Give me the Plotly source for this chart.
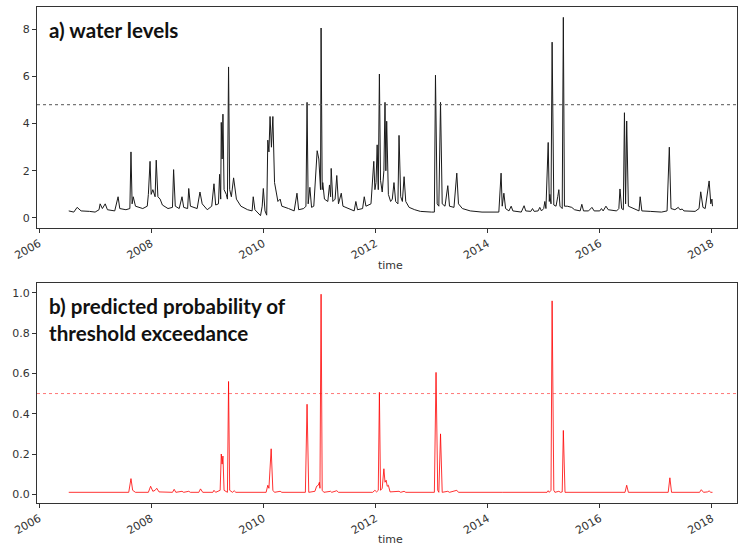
import plotly.graph_objects as go
from plotly.subplots import make_subplots

# ---------------- data (decimal years) -------------
water_points = [
    (2006.53, 0.30), (2006.62, 0.25), (2006.68, 0.45), (2006.75, 0.30), (2006.90, 0.28),
    (2007.00, 0.25), (2007.07, 0.35), (2007.09, 0.60), (2007.13, 0.40), (2007.18, 0.60),
    (2007.22, 0.35), (2007.35, 0.30), (2007.41, 0.90), (2007.44, 0.40), (2007.55, 0.35),
    (2007.62, 0.40), (2007.64, 2.80), (2007.66, 0.60), (2007.68, 0.90), (2007.72, 0.50),
    (2007.85, 0.40), (2007.93, 0.50), (2007.95, 1.00), (2007.98, 2.40), (2008.00, 1.00),
    (2008.03, 1.20), (2008.07, 0.90), (2008.09, 2.45), (2008.12, 0.90), (2008.16, 0.80),
    (2008.20, 0.55), (2008.30, 0.40), (2008.38, 0.45), (2008.40, 2.05), (2008.43, 0.50),
    (2008.50, 0.40), (2008.55, 0.90), (2008.58, 0.45), (2008.65, 0.40), (2008.67, 1.25),
    (2008.70, 0.50), (2008.82, 0.40), (2008.87, 1.10), (2008.91, 0.60), (2009.00, 0.35),
    (2009.08, 0.50), (2009.12, 1.45), (2009.15, 0.55), (2009.20, 0.60), (2009.22, 1.85),
    (2009.24, 0.80), (2009.25, 4.05), (2009.265, 2.50), (2009.28, 4.40), (2009.30, 1.20),
    (2009.34, 1.00), (2009.36, 0.80), (2009.38, 6.40), (2009.40, 1.20), (2009.43, 0.90),
    (2009.47, 1.70), (2009.52, 0.80), (2009.60, 0.50), (2009.72, 0.35), (2009.80, 0.30),
    (2009.82, 0.90), (2009.85, 0.35), (2009.90, 0.20), (2009.95, 0.10), (2009.98, 0.50),
    (2010.00, 1.25), (2010.03, 0.30), (2010.06, 0.12), (2010.08, 3.30), (2010.10, 2.80),
    (2010.12, 4.30), (2010.145, 3.00), (2010.17, 4.30), (2010.20, 1.50), (2010.23, 1.10),
    (2010.26, 0.70), (2010.30, 0.80), (2010.33, 0.50), (2010.45, 0.40), (2010.55, 0.30),
    (2010.60, 1.05), (2010.63, 0.35), (2010.72, 0.40), (2010.76, 0.50), (2010.78, 4.90),
    (2010.80, 0.60), (2010.83, 1.30), (2010.86, 0.45), (2010.90, 0.50), (2010.94, 1.80),
    (2010.96, 2.85), (2010.99, 2.50), (2011.01, 1.50), (2011.02, 1.20), (2011.03, 8.05),
    (2011.05, 1.20), (2011.06, 1.50), (2011.09, 0.80), (2011.15, 0.70), (2011.18, 1.40),
    (2011.20, 0.90), (2011.21, 2.10), (2011.24, 0.70), (2011.28, 0.80), (2011.31, 1.80),
    (2011.34, 0.60), (2011.39, 1.05), (2011.42, 0.50), (2011.55, 0.35), (2011.62, 0.30),
    (2011.65, 0.70), (2011.68, 0.35), (2011.77, 0.40), (2011.80, 0.90), (2011.83, 0.50),
    (2011.92, 0.60), (2011.97, 2.40), (2011.99, 1.20), (2012.01, 1.50), (2012.03, 3.10),
    (2012.05, 1.20), (2012.07, 6.10), (2012.09, 1.60), (2012.12, 1.10), (2012.15, 2.00),
    (2012.17, 4.90), (2012.185, 2.00), (2012.20, 4.10), (2012.23, 1.00), (2012.27, 0.70),
    (2012.30, 0.80), (2012.33, 1.50), (2012.36, 0.70), (2012.40, 0.60), (2012.42, 3.50),
    (2012.45, 0.90), (2012.48, 0.70), (2012.51, 1.75), (2012.54, 0.70), (2012.60, 0.45),
    (2012.70, 0.35), (2012.80, 0.28), (2013.00, 0.25), (2013.05, 0.25), (2013.07, 6.05),
    (2013.10, 0.60), (2013.13, 0.50), (2013.16, 4.90), (2013.19, 0.60), (2013.24, 0.50),
    (2013.29, 1.37), (2013.32, 0.50), (2013.40, 0.45), (2013.45, 1.90), (2013.48, 0.60),
    (2013.55, 0.40), (2013.69, 0.30), (2013.90, 0.25), (2014.20, 0.25), (2014.24, 1.90),
    (2014.26, 0.50), (2014.29, 1.05), (2014.32, 0.40), (2014.38, 0.30), (2014.42, 0.50),
    (2014.45, 0.30), (2014.60, 0.25), (2014.65, 0.52), (2014.68, 0.30), (2014.77, 0.28),
    (2014.80, 0.40), (2014.83, 0.28), (2014.90, 0.30), (2014.93, 0.45), (2014.96, 0.30),
    (2015.00, 0.40), (2015.02, 0.70), (2015.04, 0.40), (2015.08, 3.20), (2015.10, 0.70),
    (2015.11, 1.00), (2015.13, 0.60), (2015.15, 7.45), (2015.18, 0.55), (2015.22, 0.50),
    (2015.25, 0.90), (2015.27, 1.20), (2015.29, 0.50), (2015.33, 0.40), (2015.35, 8.50),
    (2015.37, 0.50), (2015.42, 0.50), (2015.50, 0.45), (2015.55, 0.35), (2015.65, 0.30),
    (2015.68, 0.58), (2015.71, 0.30), (2015.80, 0.30), (2015.86, 0.45), (2015.90, 0.30),
    (2016.00, 0.30), (2016.03, 0.40), (2016.06, 0.30), (2016.11, 0.50), (2016.15, 0.35),
    (2016.30, 0.30), (2016.34, 0.40), (2016.36, 1.23), (2016.39, 0.40), (2016.42, 0.35),
    (2016.44, 4.46), (2016.46, 0.60), (2016.48, 4.11), (2016.51, 0.50), (2016.60, 0.40),
    (2016.70, 0.30), (2016.72, 0.90), (2016.75, 0.30), (2016.90, 0.28), (2017.10, 0.25),
    (2017.20, 0.30), (2017.24, 3.00), (2017.27, 0.40), (2017.34, 0.35), (2017.40, 0.45),
    (2017.43, 0.35), (2017.47, 0.38), (2017.50, 0.30), (2017.70, 0.28), (2017.77, 0.40),
    (2017.80, 1.11), (2017.84, 0.45), (2017.88, 0.40), (2017.92, 1.00), (2017.95, 1.57),
    (2017.98, 0.60), (2018.00, 0.80), (2018.01, 0.50),
]

prob_points = [
    (2006.53, 0.010), (2007.60, 0.010), (2007.64, 0.078), (2007.67, 0.020), (2007.72, 0.010),
    (2007.95, 0.010), (2007.99, 0.040), (2008.03, 0.015), (2008.07, 0.020), (2008.10, 0.030),
    (2008.14, 0.012), (2008.38, 0.010), (2008.41, 0.025), (2008.44, 0.010), (2008.55, 0.015),
    (2008.58, 0.010), (2008.67, 0.015), (2008.70, 0.010), (2008.85, 0.010), (2008.88, 0.027),
    (2008.92, 0.010), (2009.10, 0.010), (2009.12, 0.020), (2009.15, 0.010), (2009.23, 0.020),
    (2009.25, 0.200), (2009.265, 0.150), (2009.28, 0.190), (2009.30, 0.020), (2009.36, 0.010),
    (2009.38, 0.560), (2009.40, 0.020), (2009.45, 0.010), (2009.48, 0.018), (2009.51, 0.010),
    (2010.05, 0.010), (2010.08, 0.045), (2010.10, 0.030), (2010.14, 0.226), (2010.17, 0.020),
    (2010.20, 0.010), (2010.30, 0.015), (2010.33, 0.010), (2010.75, 0.010), (2010.78, 0.447),
    (2010.81, 0.010), (2010.92, 0.015), (2010.95, 0.040), (2010.98, 0.045), (2011.00, 0.060),
    (2011.01, 0.030), (2011.03, 0.993), (2011.05, 0.020), (2011.08, 0.010), (2011.20, 0.015),
    (2011.22, 0.010), (2011.31, 0.018), (2011.34, 0.010), (2011.95, 0.010), (2011.99, 0.020),
    (2012.02, 0.012), (2012.05, 0.020), (2012.07, 0.506), (2012.09, 0.020), (2012.12, 0.030),
    (2012.15, 0.127), (2012.17, 0.060), (2012.19, 0.070), (2012.21, 0.040), (2012.23, 0.045),
    (2012.26, 0.012), (2012.42, 0.015), (2012.45, 0.010), (2012.51, 0.015), (2012.54, 0.010),
    (2013.05, 0.010), (2013.08, 0.605), (2013.11, 0.020), (2013.13, 0.010), (2013.16, 0.300),
    (2013.19, 0.010), (2013.29, 0.015), (2013.32, 0.010), (2013.45, 0.020), (2013.48, 0.010),
    (2014.24, 0.013), (2014.27, 0.010), (2015.06, 0.010), (2015.08, 0.018), (2015.10, 0.010),
    (2015.13, 0.020), (2015.15, 0.960), (2015.18, 0.020), (2015.20, 0.010), (2015.27, 0.015),
    (2015.30, 0.010), (2015.33, 0.012), (2015.35, 0.317), (2015.38, 0.010), (2016.45, 0.010),
    (2016.48, 0.045), (2016.51, 0.010), (2017.22, 0.010), (2017.25, 0.082), (2017.28, 0.010),
    (2017.78, 0.010), (2017.81, 0.023), (2017.85, 0.010), (2017.92, 0.012), (2017.95, 0.017),
    (2017.98, 0.010), (2018.01, 0.010),
]

water_threshold = 4.8
prob_threshold = 0.5

year_ticks = [2006, 2008, 2010, 2012, 2014, 2016, 2018]
year_labels = [str(y) for y in year_ticks]
water_ticks = [0, 2, 4, 6, 8]
prob_ticks = [0.0, 0.2, 0.4, 0.6, 0.8, 1.0]

title_a = "a) water levels"
title_b = "b) predicted probability of<br>threshold exceedance"
x_title = "time"

# ---------------- figure --------------------------------------------------------
water_t = [p[0] for p in water_points]
water_v = [p[1] for p in water_points]
prob_t = [p[0] for p in prob_points]
prob_v = [p[1] for p in prob_points]

W, H = 738, 546
ml, mr, mt, mb = 37, 1, 7, 43
plot_h = H - mt - mb

def yfrac(px):
    return (H - mb - px) / plot_h

fig = make_subplots(rows=2, cols=1)

fig.add_trace(go.Scatter(x=water_t, y=water_v, mode="lines",
                         line=dict(color="#1a1a1a", width=1), showlegend=False),
              row=1, col=1)
fig.add_trace(go.Scatter(x=prob_t, y=prob_v, mode="lines",
                         line=dict(color="rgba(255,0,0,0.8)", width=1), showlegend=False),
              row=2, col=1)

fig.add_shape(type="line", xref="x domain", yref="y", x0=0, x1=1,
              y0=water_threshold, y1=water_threshold,
              line=dict(color="#555555", width=1, dash="dot"))
fig.add_shape(type="line", xref="x2 domain", yref="y2", x0=0, x1=1,
              y0=prob_threshold, y1=prob_threshold,
              line=dict(color="#ff2020", width=1, dash="dot"), opacity=0.6)

tick_font = dict(family="DejaVu Sans", size=11, color="#333333")
xrange = [2005.964, 2018.447]

axis_common = dict(showline=True, mirror=True, linecolor="#333333", linewidth=1,
                   ticks="outside", ticklen=4, tickcolor="#333333",
                   showgrid=False, zeroline=False, tickfont=tick_font, automargin=False)

fig.update_xaxes(range=xrange, tickvals=year_ticks, ticktext=year_labels,
                 tickangle=-30, **axis_common)
fig.update_yaxes(**axis_common)

fig.update_layout(
    xaxis=dict(domain=[0, 1]),
    xaxis2=dict(domain=[0, 1]),
    yaxis=dict(domain=[yfrac(228), 1.0], range=[-0.424, 8.94], tickvals=water_ticks),
    yaxis2=dict(domain=[0.0, yfrac(283)], range=[-0.043, 1.0486], tickvals=prob_ticks,
                tickformat=".1f"),
    width=W, height=H,
    margin=dict(l=ml, r=mr, t=mt, b=mb),
    plot_bgcolor="white", paper_bgcolor="white",
)

title_font = dict(family="Lato", size=20.6, color="#111111")
fig.add_annotation(text="<b>" + title_a + "</b>", xref="x domain", yref="y domain",
                   x=0.014, y=0.96, xanchor="left", yanchor="top", showarrow=False,
                   font=title_font, align="left")
fig.add_annotation(text="<b>" + title_b.replace("<br>", "</b><br><b>") + "</b>",
                   xref="x2 domain", yref="y2 domain",
                   x=0.014, y=0.96, xanchor="left", yanchor="top", showarrow=False,
                   font=title_font, align="left")

lab_font = dict(family="DejaVu Sans", size=11, color="#333333")
fig.add_annotation(text=x_title, xref="paper", yref="paper", x=(390 - ml) / (W - ml - mr),
                   y=yfrac(265), xanchor="center", yanchor="middle", showarrow=False,
                   font=lab_font)
fig.add_annotation(text=x_title, xref="paper", yref="paper", x=(390 - ml) / (W - ml - mr),
                   y=yfrac(539), xanchor="center", yanchor="middle", showarrow=False,
                   font=lab_font)

fig.write_html("out.html", config={"displayModeBar": False},
               post_script="document.body.style.margin='0px';")
